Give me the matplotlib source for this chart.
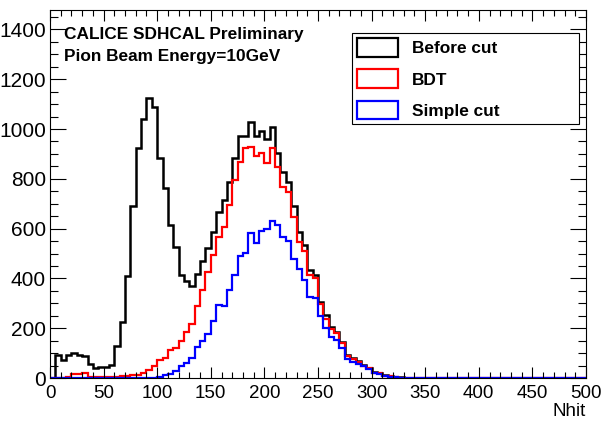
import numpy as np
import matplotlib
matplotlib.use("Agg")
import matplotlib.pyplot as plt
from matplotlib.patches import Patch

plt.rcParams['font.family'] = ['Liberation Sans', 'DejaVu Sans']

# Nhit histograms, 5-hit bins from 0 to 500
bin_edges = np.arange(0, 505, 5)

before_cut = [0, 94, 74, 94, 101, 94, 89, 58, 41, 45,
              45, 51, 129, 224, 410, 689, 922, 1039, 1124, 1089,
              885, 763, 613, 527, 413, 390, 368, 417, 470, 523,
              586, 668, 715, 788, 882, 973, 973, 1030, 973, 993,
              959, 1008, 905, 829, 788, 692, 585, 534, 433, 413,
              307, 252, 206, 186, 145, 93, 79, 67, 52, 40,
              25, 22, 12, 8, 5, 3, 2, 1, 0, 0] + [0] * 30

bdt = [0, 0, 0, 6, 18, 18, 22, 6, 5, 5,
       4, 3, 3, 8, 8, 12, 14, 20, 32, 48,
       74, 80, 112, 122, 150, 184, 217, 289, 354, 424,
       496, 566, 608, 695, 795, 866, 922, 926, 890, 902,
       865, 922, 849, 766, 748, 648, 547, 510, 415, 400,
       298, 239, 195, 179, 139, 88, 76, 65, 50, 40,
       20, 20, 10, 7, 4, 2, 1, 0, 0, 0] + [0] * 30

simple_cut = [0, 0, 0, 0, 0, 0, 0, 0, 0, 0,
              0, 0, 0, 0, 0, 0, 0, 0, 0, 2,
              6, 11, 18, 29, 47, 61, 81, 125, 150, 175,
              230, 293, 289, 353, 415, 490, 503, 583, 541, 590,
              597, 630, 614, 566, 550, 480, 436, 392, 326, 320,
              248, 199, 165, 152, 119, 75, 65, 55, 47, 35,
              22, 18, 10, 6, 3, 1, 0, 0, 0, 0] + [0] * 30

labels = ["Before cut", "BDT", "Simple cut"]
colors = ["black", "#ff0000", "#0000ff"]
widths = [1.8, 1.6, 1.6]

fig = plt.figure(figsize=(6.04, 4.21), dpi=100)
ax = fig.add_axes([0.0828, 0.1021, 0.8874, 0.8741])

for vals, col, w in zip([before_cut, bdt, simple_cut], colors, widths):
    ax.stairs(vals, bin_edges, color=col, lw=w, baseline=0)

ax.set_xlim(0, 500)
ax.set_ylim(0, 1478)
ax.set_xticks(np.arange(0, 501, 50))
ax.set_xticks(np.arange(0, 501, 10), minor=True)
ax.set_yticks(np.arange(0, 1401, 200))
ax.set_yticks(np.arange(0, 1451, 50), minor=True)

ax.tick_params(which='both', direction='in', top=True, right=True,
               width=0.8, labelsize=13.5)
ax.tick_params(axis='y', which='major', length=11.5, pad=3, labelsize=15)
ax.tick_params(axis='y', which='minor', length=5.8)
ax.tick_params(axis='x', which='major', length=8, pad=5)
ax.tick_params(axis='x', which='minor', length=4)
for s in ax.spines.values():
    s.set_linewidth(0.8)

ax.set_xlabel("Nhit", loc='right', fontsize=13.5, labelpad=1)

ax.text(0.026, 0.920, "CALICE SDHCAL Preliminary", transform=ax.transAxes,
        fontsize=12.4, fontweight='bold', va='baseline')
ax.text(0.026, 0.861, "Pion Beam Energy=10GeV", transform=ax.transAxes,
        fontsize=12.4, fontweight='bold', va='baseline')

handles = [Patch(facecolor='none', edgecolor=c, lw=1.6) for c in colors]
leg = ax.legend(handles, labels, loc='upper left',
                bbox_to_anchor=(0.563, 0.693, 0.4245, 0.2445), mode='expand',
                prop={'weight': 'bold', 'size': 12.4},
                fancybox=False, edgecolor='black', framealpha=1,
                borderpad=0.3, handlelength=2.4, handleheight=1.3,
                handletextpad=0.8, labelspacing=0.72, borderaxespad=0)
leg.get_frame().set_linewidth(0.8)

fig.savefig("out.png", dpi=100)
